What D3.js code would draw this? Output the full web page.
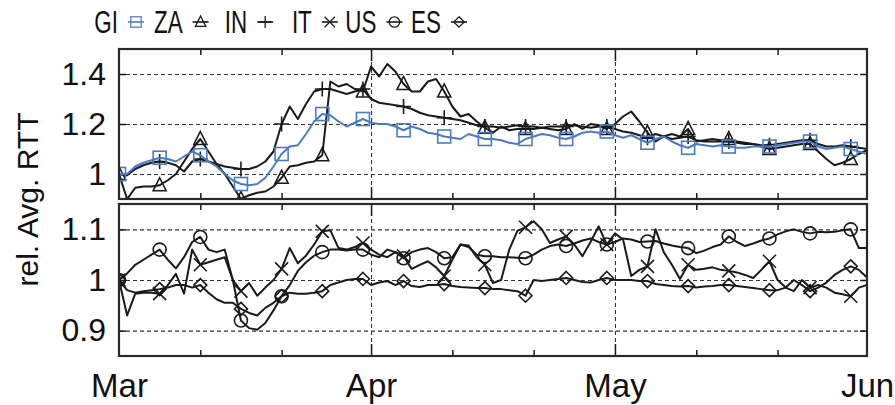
<!DOCTYPE html>
<html>
<head>
<meta charset="utf-8">
<script src="https://cdn.jsdelivr.net/npm/d3@7"></script>
<style>
  body { margin: 0; background: #fff; }
  text { font-family: "Liberation Sans", Arial, sans-serif; fill: #111; }
</style>
</head>
<body>
<div id="chart"></div>
<script>
// daily values, 1 Mar 2020 .. 2 Jun 2020 (93 days), marker every 5th day
const startDate = new Date(2020, 2, 1);

const giValues = [1.0, 1.0, 1.03, 1.045, 1.055, 1.065, 1.06, 1.05, 1.07, 1.09,
  1.075, 1.05, 1.03, 1.0, 0.975, 0.96, 0.955, 0.96, 0.985, 1.03,
  1.08, 1.11, 1.115, 1.16, 1.21, 1.24, 1.235, 1.21, 1.19, 1.205,
  1.22, 1.205, 1.2, 1.2, 1.19, 1.175, 1.19, 1.18, 1.165, 1.16,
  1.15, 1.145, 1.14, 1.16, 1.15, 1.14, 1.14, 1.135, 1.125, 1.12,
  1.14, 1.15, 1.16, 1.155, 1.145, 1.14, 1.15, 1.165, 1.17, 1.165,
  1.17, 1.155, 1.145, 1.155, 1.14, 1.125, 1.14, 1.15, 1.13, 1.115,
  1.105, 1.12, 1.115, 1.11, 1.115, 1.11, 1.105, 1.105, 1.11, 1.11,
  1.11, 1.115, 1.12, 1.125, 1.13, 1.13, 1.11, 1.1, 1.105, 1.11,
  1.1, 1.09, 1.08];
const zaValues = [1.0, 0.9, 0.945, 0.95, 0.95, 0.955, 0.975, 1.0, 1.05, 1.1,
  1.14, 1.09, 1.04, 1.0, 0.95, 0.9, 0.915, 0.925, 0.93, 0.95,
  0.985, 1.03, 1.035, 1.045, 1.05, 1.075, 1.37, 1.35, 1.36, 1.34,
  1.33, 1.43, 1.39, 1.44, 1.41, 1.36, 1.33, 1.33, 1.37, 1.38,
  1.33, 1.27, 1.23, 1.24, 1.21, 1.185, 1.165, 1.19, 1.175, 1.18,
  1.18, 1.18, 1.185, 1.18, 1.175, 1.18, 1.2, 1.18, 1.2, 1.195,
  1.18, 1.2, 1.23, 1.25, 1.21, 1.165, 1.13, 1.15, 1.16, 1.15,
  1.18, 1.13, 1.135, 1.14, 1.135, 1.14, 1.13, 1.125, 1.12, 1.11,
  1.1, 1.105, 1.11, 1.115, 1.12, 1.12, 1.09, 1.06, 1.035, 1.045,
  1.06, 1.08, 1.095];
const inValues = [1.0, 0.995, 1.02, 1.035, 1.045, 1.05, 1.045, 1.035, 1.01, 1.05,
  1.06, 1.05, 1.04, 1.03, 1.025, 1.02, 1.02, 1.03, 1.05, 1.09,
  1.2, 1.27, 1.22, 1.28, 1.33, 1.34, 1.34, 1.33, 1.32, 1.33,
  1.34, 1.3, 1.285, 1.28, 1.275, 1.27, 1.26, 1.245, 1.235, 1.23,
  1.225, 1.22, 1.215, 1.205, 1.195, 1.19, 1.19, 1.185, 1.19, 1.195,
  1.19, 1.19, 1.185, 1.19, 1.19, 1.19, 1.195, 1.19, 1.185, 1.19,
  1.19, 1.18, 1.17, 1.165, 1.155, 1.145, 1.16, 1.15, 1.14, 1.145,
  1.15, 1.135, 1.13, 1.13, 1.13, 1.13, 1.125, 1.12, 1.12, 1.115,
  1.115, 1.12, 1.125, 1.13, 1.135, 1.135, 1.12, 1.11, 1.11, 1.115,
  1.11, 1.105, 1.1];
const itValues = [1.0, 0.93, 0.973, 0.975, 0.975, 0.973, 0.99, 1.012, 0.973, 1.06,
  1.03, 1.035, 1.04, 1.045, 1.0, 0.978, 0.994, 0.969, 0.985, 1.0,
  1.022, 1.063, 1.033, 1.048, 1.07, 1.096, 1.098, 1.063, 1.06, 1.065,
  1.073, 1.06, 1.05, 1.045, 1.055, 1.047, 1.022, 1.03, 1.037, 1.025,
  1.008, 1.04, 1.07, 1.068, 1.045, 1.03, 0.994, 1.0, 1.06, 1.097,
  1.104, 1.116, 1.1, 1.073, 1.08, 1.086, 1.07, 1.047, 1.075, 1.106,
  1.07, 1.092, 1.08, 1.008, 1.02, 1.027, 1.1, 1.055, 1.03, 1.002,
  1.03, 1.02, 1.022, 1.025, 1.02, 1.018, 1.015, 1.01, 1.004, 1.02,
  1.037, 1.0, 0.985, 0.978, 1.0, 0.985, 0.99, 0.985, 0.975, 0.972,
  0.968, 0.985, 0.99];
const usValues = [1.0, 1.013, 1.03, 1.04, 1.05, 1.06, 1.04, 1.023, 1.045, 1.075,
  1.085, 1.06, 1.055, 1.06, 1.0, 0.92, 0.905, 0.902, 0.915, 0.94,
  0.968, 0.99, 1.018, 1.035, 1.048, 1.055, 1.06, 1.06, 1.058, 1.06,
  1.06, 1.05, 1.045, 1.06, 1.055, 1.043, 1.055, 1.06, 1.063, 1.055,
  1.043, 1.045, 1.07, 1.065, 1.05, 1.047, 1.047, 1.045, 1.045, 1.044,
  1.043, 1.05, 1.06, 1.067, 1.07, 1.067, 1.072, 1.078, 1.082, 1.075,
  1.07, 1.075, 1.082, 1.08, 1.075, 1.076, 1.077, 1.072, 1.068, 1.065,
  1.063, 1.053, 1.058, 1.065, 1.07, 1.086, 1.075, 1.067, 1.072, 1.078,
  1.082, 1.09, 1.096, 1.1, 1.095, 1.092, 1.095, 1.094, 1.095, 1.098,
  1.1, 1.063, 1.063];
const esValues = [1.0, 0.98, 0.975, 0.978, 0.98, 0.982, 0.985, 0.99, 0.99, 0.985,
  0.99, 0.975, 0.962, 0.955, 0.955, 0.943, 0.935, 0.93, 0.945, 0.955,
  0.968, 0.975, 0.973, 0.973, 0.975, 0.978, 0.99, 0.995, 1.0, 1.002,
  1.002, 0.99, 0.995, 0.998, 0.99, 0.998, 0.988, 0.986, 0.99, 0.99,
  0.992, 0.988, 0.986, 0.985, 0.984, 0.984, 0.982, 0.982, 0.98, 0.978,
  0.969, 1.0, 0.998, 1.0, 1.002, 1.004, 1.0, 0.996, 0.995, 1.0,
  1.004, 1.0, 1.0, 1.0, 0.998, 0.998, 0.992, 0.99, 0.988, 0.987,
  0.988, 0.985, 0.987, 0.988, 0.99, 0.99, 0.988, 0.986, 0.984, 0.982,
  0.98, 0.98, 0.985, 1.0, 0.99, 0.978, 0.985, 0.995, 1.01, 1.02,
  1.027, 1.02, 1.005];

const legendNames = ["GI", "ZA", "IN", "IT", "US", "ES"];
const topTicks = [1, 1.2, 1.4];
const bottomTicks = [0.9, 1, 1.1];
const monthLabels = ["Mar", "Apr", "May", "Jun"];

const width = 895, height = 405,
  left = 119, right = 867,
  topPanel = { y0: 49, y1: 199, domain: [0.9, 1.5] },
  botPanel = { y0: 204, y1: 356, domain: [0.85, 1.15] },
  blue = "#4b7bc6", ink = "#1a1a1a",
  markEvery = 5;

const dates = giValues.map((v, i) => d3.timeDay.offset(startDate, i));

const series = [
  { name: "GI", values: giValues, shape: "square", color: blue, panel: 0 },
  { name: "ZA", values: zaValues, shape: "triangle", color: ink, panel: 0 },
  { name: "IN", values: inValues, shape: "plus", color: ink, panel: 0 },
  { name: "IT", values: itValues, shape: "cross", color: ink, panel: 1 },
  { name: "US", values: usValues, shape: "circle", color: ink, panel: 1 },
  { name: "ES", values: esValues, shape: "diamond", color: ink, panel: 1 }
];

const x = d3.scaleTime()
  .domain([new Date(2020, 2, 1), new Date(2020, 5, 1)])
  .range([left, right]);
const yTop = d3.scaleLinear().domain(topPanel.domain).range([topPanel.y1, topPanel.y0]);
const yBot = d3.scaleLinear().domain(botPanel.domain).range([botPanel.y1, botPanel.y0]);
const yScales = [yTop, yBot];

const majorDates = d3.timeMonth.range(new Date(2020, 2, 1), new Date(2020, 5, 2));
const minorDates = d3.timeDay.range(new Date(2020, 2, 1), new Date(2020, 5, 1))
  .filter(d => d.getDate() === 11 || d.getDate() === 21);
const gridDates = majorDates.slice(1, -1);

const svg = d3.select("#chart").append("svg")
  .attr("width", width).attr("height", height);

// marker symbols
function marker(g, shape, color) {
  const s = 6.5;
  let p;
  if (shape === "square") p = g.append("rect").attr("x", -s).attr("y", -s).attr("width", 2 * s).attr("height", 2 * s);
  else if (shape === "circle") p = g.append("circle").attr("r", s);
  else if (shape === "triangle") p = g.append("path").attr("d", `M0,${-s - 1}L${s},${s - 1}L${-s},${s - 1}Z`);
  else if (shape === "diamond") p = g.append("path").attr("d", `M0,${-s}L${s},0L0,${s}L${-s},0Z`);
  else if (shape === "plus") p = g.append("path").attr("d", `M${-s - 1},0H${s + 1}M0,${-s - 1}V${s + 1}`);
  else p = g.append("path").attr("d", `M${-s},${-s}L${s},${s}M${-s},${s}L${s},${-s}`);
  p.attr("fill", "none").attr("stroke", color).attr("stroke-width", 1.6);
}

[topPanel, botPanel].forEach((panel, pi) => {
  const y = yScales[pi];
  const ticks = pi === 0 ? topTicks : bottomTicks;
  const g = svg.append("g");

  // horizontal grid
  g.append("g")
    .attr("transform", `translate(${left},0)`)
    .call(d3.axisLeft(y).tickValues(ticks).tickSize(-(right - left)).tickFormat(""))
    .call(a => a.select(".domain").remove())
    .selectAll("line").attr("stroke", "#333").attr("stroke-width", 1.1).attr("stroke-dasharray", "4,3");
  // vertical grid at month starts
  g.append("g")
    .attr("transform", `translate(0,${panel.y1})`)
    .call(d3.axisBottom(x).tickValues(gridDates).tickSize(-(panel.y1 - panel.y0)).tickFormat(""))
    .call(a => a.select(".domain").remove())
    .selectAll("line").attr("stroke", "#333").attr("stroke-width", 1.1).attr("stroke-dasharray", "4,3");

  // y ticks left with labels, right mirrored
  g.append("g")
    .attr("transform", `translate(${left},0)`)
    .call(d3.axisLeft(y).tickValues(ticks).tickSize(-7).tickPadding(13).tickFormat(d3.format("~g")))
    .call(a => a.select(".domain").remove())
    .call(a => a.selectAll("line").attr("stroke", ink).attr("stroke-width", 1.5))
    .call(a => a.selectAll("text").attr("font-size", 32).attr("fill", ink));
  g.append("g")
    .attr("transform", `translate(${right},0)`)
    .call(d3.axisRight(y).tickValues(ticks).tickSize(-7).tickFormat(""))
    .call(a => a.select(".domain").remove())
    .selectAll("line").attr("stroke", ink).attr("stroke-width", 1.5);

  // x ticks, inward, bottom and top
  [[panel.y1, -1], [panel.y0, 1]].forEach(([yy, dir]) => {
    const ax = dir < 0 ? d3.axisBottom(x) : d3.axisTop(x);
    g.append("g").attr("transform", `translate(0,${yy})`)
      .call(ax.tickValues(minorDates).tickSize(-6).tickFormat(""))
      .call(a => a.select(".domain").remove())
      .selectAll("line").attr("stroke", ink).attr("stroke-width", 1.5);
    g.append("g").attr("transform", `translate(0,${yy})`)
      .call((dir < 0 ? d3.axisBottom(x) : d3.axisTop(x)).tickValues(gridDates).tickSize(-12).tickFormat(""))
      .call(a => a.select(".domain").remove())
      .selectAll("line").attr("stroke", ink).attr("stroke-width", 1.5);
  });

  // clip
  const clipId = "clip" + pi;
  svg.append("clipPath").attr("id", clipId)
    .append("rect").attr("x", left).attr("y", panel.y0)
    .attr("width", right - left).attr("height", panel.y1 - panel.y0);

  const plot = g.append("g").attr("clip-path", `url(#${clipId})`);
  const line = d3.line().x((d, i) => x(dates[i])).y(d => y(d));

  series.filter(s => s.panel === pi).slice().reverse().forEach(s => {
    plot.append("path")
      .attr("d", line(s.values))
      .attr("fill", "none")
      .attr("stroke", s.color)
      .attr("stroke-width", 2)
      .attr("stroke-linejoin", "round");
    plot.selectAll(null)
      .data(s.values.filter((v, i) => i % markEvery === 0 && i < 91))
      .join("g")
      .attr("transform", (d, i) => `translate(${x(dates[i * markEvery])},${y(d)})`)
      .each(function () { marker(d3.select(this), s.shape, s.color); });
  });

  // frame
  g.append("rect")
    .attr("x", left).attr("y", panel.y0)
    .attr("width", right - left).attr("height", panel.y1 - panel.y0)
    .attr("fill", "none").attr("stroke", "#2a2a2a").attr("stroke-width", 2.2);
});

// x labels
svg.append("g")
  .attr("transform", `translate(0,${botPanel.y1})`)
  .call(d3.axisBottom(x).tickValues(majorDates).tickSize(0).tickPadding(0)
    .tickFormat((d, i) => monthLabels[i]))
  .call(a => a.select(".domain").remove())
  .selectAll("text")
  .attr("font-size", 33).attr("fill", ink)
  .attr("y", 41).attr("dy", 0);

// y label
svg.append("text")
  .attr("transform", `translate(38,${(topPanel.y0 + botPanel.y1) / 2 - 3}) rotate(-90)`)
  .attr("text-anchor", "middle")
  .attr("font-size", 30)
  .text("rel. Avg. RTT");

// legend
const leg = svg.append("g");
series.forEach((s, i) => {
  const cx = 136 + 64.6 * i;
  leg.append("text")
    .attr("transform", `translate(${cx - 18},33) scale(0.7,1)`)
    .attr("text-anchor", "end")
    .attr("font-size", 32)
    .text(legendNames[i]);
  leg.append("line")
    .attr("x1", cx - 8).attr("x2", cx + 8).attr("y1", 22).attr("y2", 22)
    .attr("stroke", s.color).attr("stroke-width", 1.6);
  const m = leg.append("g").attr("transform", `translate(${cx},22) scale(0.8)`);
  marker(m, s.shape, s.color);
});
</script>
</body>
</html>
